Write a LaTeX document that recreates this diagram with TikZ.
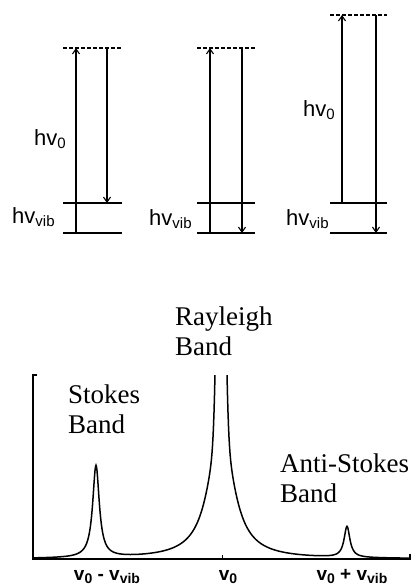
\documentclass[tikz,border=0pt]{standalone}
\usepackage{fontspec}
\setmainfont{Liberation Serif}
\newfontfamily\labsans{Liberation Sans}
\usetikzlibrary{arrows.meta}
\begin{document}
\begin{tikzpicture}[x=1pt,y=-1pt,
  level/.style={line width=1.8pt},
  virt/.style={line width=1.8pt, dash pattern=on 4pt off 2pt},
  trans/.style={line width=1.1pt,-{Straight Barb[length=5pt,width=7pt,line width=1.1pt]}},
  axisline/.style={line width=1.4pt},
  curve/.style={line width=1.5pt},
  elabel/.style={font=\labsans\fontsize{22}{24}\selectfont, inner sep=0pt, anchor=base west},
  blabel/.style={font=\fontsize{27}{29.5}\selectfont, inner sep=0pt, anchor=base west, align=left},
  flabel/.style={font=\labsans\bfseries\fontsize{19}{21}\selectfont, inner sep=0pt, anchor=base},
  declare function={lor(\x,\c,\a,\g)=\a*\g*\g/(((\x-\c)/10)*((\x-\c)/10)+\g*\g);
                    gau(\x,\c,\a)=\a*exp(max(-12,-5*((\x-\c)/10)*((\x-\c)/10)));}
]
\useasboundingbox (0,0) rectangle (412,587);
\newcommand{\sbs}[1]{\raisebox{-3.5pt}{\fontsize{15}{15}\selectfont #1}}
\newcommand{\sbf}[1]{\raisebox{-3pt}{\fontsize{14}{14}\selectfont #1}}

% ---------- diagram 1 ----------
\coordinate (v1L) at (63,48);  \coordinate (v1R) at (122,48);
\coordinate (e1L) at (63,203); \coordinate (e1R) at (122,203);
\coordinate (g1L) at (63,233); \coordinate (g1R) at (122,233);
\coordinate (u1s) at (76,233); \coordinate (u1e) at (76,48);
\coordinate (d1s) at (107,48); \coordinate (d1e) at (107,203);
\draw[virt] (v1L) -- (v1R);
\draw[level] (e1L) -- (e1R);
\draw[level] (g1L) -- (g1R);
\draw[trans] (u1s) -- (u1e);
\draw[trans] (d1s) -- (d1e);
\node[elabel] (l1a) at (34,145) {hv\sbs{0}};
\node[elabel] (l1b) at (12,223) {hv\sbs{vib}};

% ---------- diagram 2 ----------
\coordinate (v2L) at (197,48);  \coordinate (v2R) at (255,48);
\coordinate (e2L) at (197,203); \coordinate (e2R) at (255,203);
\coordinate (g2L) at (197,233); \coordinate (g2R) at (255,233);
\coordinate (u2s) at (210,233); \coordinate (u2e) at (210,48);
\coordinate (d2s) at (242,48);  \coordinate (d2e) at (242,233);
\draw[virt] (v2L) -- (v2R);
\draw[level] (e2L) -- (e2R);
\draw[level] (g2L) -- (g2R);
\draw[trans] (u2s) -- (u2e);
\draw[trans] (d2s) -- (d2e);
\node[elabel] (l2b) at (149,225) {hv\sbs{vib}};

% ---------- diagram 3 ----------
\coordinate (v3L) at (330,15);  \coordinate (v3R) at (387,15);
\coordinate (e3L) at (330,203); \coordinate (e3R) at (387,203);
\coordinate (g3L) at (330,233); \coordinate (g3R) at (387,233);
\coordinate (u3s) at (342,203); \coordinate (u3e) at (342,15);
\coordinate (d3s) at (376,15);  \coordinate (d3e) at (376,233);
\draw[virt] (v3L) -- (v3R);
\draw[level] (e3L) -- (e3R);
\draw[level] (g3L) -- (g3R);
\draw[trans] (u3s) -- (u3e);
\draw[trans] (d3s) -- (d3e);
\node[elabel] (l3a) at (303,116) {hv\sbs{0}};
\node[elabel] (l3b) at (286,225) {hv\sbs{vib}};

% ---------- spectrum ----------
\coordinate (ytop) at (33,375);
\coordinate (ytick) at (37,375);
\coordinate (orig) at (33,559);
\coordinate (xend) at (410,559);
\coordinate (xendt) at (410,554);
\coordinate (ct) at (222,559);
\coordinate (ctt) at (222,555);
\draw[axisline] (ytick) -- (ytop) -- (orig) -- (xend) -- (xendt);
\draw[line width=1pt] (ct) -- (ctt);
\begin{scope}
\clip (30,375) rectangle (412,570);
\draw[curve] plot[domain=33:410, samples=755]
  (\x, {559 - lor(\x,96,92,0.4) - lor(\x,347,31,0.35) - lor(\x,221,140,1.4) - gau(\x,221,400)});
\end{scope}

\node[blabel] (ray) at (175,355) {Rayleigh\\Band};
\node[blabel] (sto) at (68,433) {Stokes\\Band};
\node[blabel] (ast) at (280,502) {Anti-Stokes\\Band};

\node[flabel] (f1) at (107,580) {v\sbf{0} - v\sbf{vib}};
\node[flabel] (f2) at (228,580) {v\sbf{0}};
\node[flabel] (f3) at (352,580) {v\sbf{0} + v\sbf{vib}};
\end{tikzpicture}
\end{document}
